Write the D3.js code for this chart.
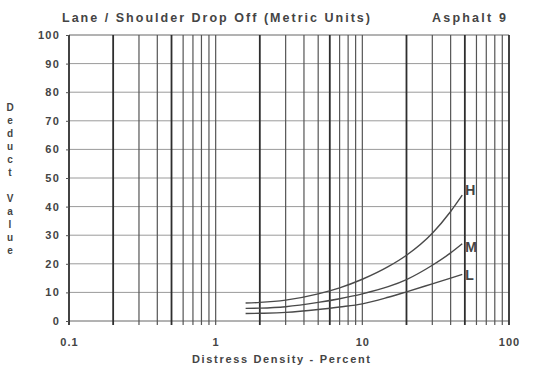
<!DOCTYPE html>
<html>
<head>
<meta charset="utf-8">
<script src="https://cdn.jsdelivr.net/npm/d3@7"></script>
<style>
  html, body { margin: 0; padding: 0; background: #fff; }
  svg { display: block; }
  text { font-family: "Liberation Sans", Arial, sans-serif; fill: #444; }
</style>
</head>
<body>
<svg id="chart" width="539" height="369"></svg>
<script>
// ---- data ----
const titleText = "Lane / Shoulder Drop Off (Metric Units)";
const subtitleText = "Asphalt 9";
const yLabelWord1 = "Deduct";
const yLabelWord2 = "Value";
const xLabelText = "Distress Density - Percent";

const yTicks = [0, 10, 20, 30, 40, 50, 60, 70, 80, 90, 100];
const xTickLabels = [0.1, 1, 10, 100];
const xGridValues = [0.1, 0.2, 0.3, 0.4, 0.5, 0.6, 0.7, 0.8, 0.9,
                     1, 2, 3, 4, 5, 6, 7, 8, 9,
                     10, 20, 30, 40, 50, 60, 70, 80, 90, 100];
const xGridHeavy = [0.1, 0.2, 0.5, 2, 6, 20, 50, 100];

const density = [1.6, 2, 3, 5, 7, 10, 15, 20, 30, 40, 48];
const seriesNames = ["H", "M", "L"];
const valuesH = [6.3, 6.5, 7.3, 9.5, 11.6, 14.6, 19, 23, 30.7, 38.3, 44];
const valuesM = [4.4, 4.5, 5.0, 6.5, 7.8, 9.5, 12, 14.5, 19.5, 23.8, 27];
const valuesL = [2.6, 2.7, 3.0, 4.0, 4.9, 6.0, 8.3, 10.2, 13, 15, 16.3];

// ---- layout ----
const svg = d3.select("#chart");
const x = d3.scaleLog().domain([0.1, 100]).range([69, 509]);
const y = d3.scaleLinear().domain([0, 100]).range([321, 35]);

// horizontal grid
svg.append("g").selectAll("line").data(yTicks).join("line")
  .attr("x1", x(0.1)).attr("x2", x(100))
  .attr("y1", d => y(d)).attr("y2", d => y(d))
  .attr("stroke", d => (d === 0 || d === 100) ? "#666" : "#9a9a9a")
  .attr("stroke-width", 1);

// vertical grid
svg.append("g").selectAll("line").data(xGridValues).join("line")
  .attr("x1", d => x(d)).attr("x2", d => x(d))
  .attr("y1", y(100)).attr("y2", y(0) + 4)
  .attr("stroke", d => xGridHeavy.includes(d) ? "#2e2e2e" : "#555")
  .attr("stroke-width", d => xGridHeavy.includes(d) ? 1.8 : 1.2);

// y axis labels
const yAxis = svg.append("g")
  .attr("transform", `translate(${x(0.1)},0)`)
  .call(d3.axisLeft(y).tickValues(yTicks).tickSize(3).tickPadding(6));
yAxis.select(".domain").remove();
yAxis.selectAll(".tick line").attr("stroke", "#555");
yAxis.selectAll("text")
  .style("font-family", "'Liberation Sans', Arial, sans-serif")
  .style("font-size", "11px").style("letter-spacing", "1.2px")
  .style("font-weight", "bold")
  .attr("fill", "#555");

// x axis labels
const xAxis = svg.append("g")
  .attr("transform", `translate(0,${y(0)})`)
  .call(d3.axisBottom(x).tickValues(xTickLabels).tickSize(0).tickPadding(17)
    .tickFormat(d => String(d)));
xAxis.select(".domain").remove();
xAxis.selectAll("text")
  .style("font-family", "'Liberation Sans', Arial, sans-serif")
  .style("font-size", "11px").style("letter-spacing", "1px")
  .style("font-weight", "bold")
  .attr("fill", "#555");

// curves
const line = d3.line().x(d => x(d[0])).y(d => y(d[1])).curve(d3.curveMonotoneX);
const allSeries = [valuesH, valuesM, valuesL];
allSeries.forEach((vals) => {
  svg.append("path")
    .datum(density.map((d, i) => [d, vals[i]]))
    .attr("d", line)
    .attr("fill", "none")
    .attr("stroke", "#4a4a4a")
    .attr("stroke-width", 1.4);
});

// series labels
allSeries.forEach((vals, i) => {
  svg.append("text")
    .attr("x", x(density[density.length - 1]) + 3)
    .attr("y", y(vals[vals.length - 1]) + [0, 8, 6][i])
    .attr("font-size", 14)
    .attr("font-weight", "bold")
    .attr("fill", "#444")
    .text(seriesNames[i]);
});

// titles
svg.append("text")
  .attr("x", 62).attr("y", 22)
  .attr("font-size", 12.5).attr("font-weight", "bold")
  .attr("textLength", 308).attr("lengthAdjust", "spacing")
  .text(titleText);
svg.append("text")
  .attr("x", 432).attr("y", 22)
  .attr("font-size", 12.5).attr("font-weight", "bold")
  .attr("textLength", 74).attr("lengthAdjust", "spacing")
  .text(subtitleText);

// x label
svg.append("text")
  .attr("x", 192).attr("y", 363)
  .attr("font-size", 11).attr("font-weight", "bold")
  .attr("textLength", 178).attr("lengthAdjust", "spacing")
  .text(xLabelText);

// y label (stacked letters)
const letters = [...yLabelWord1, " ", ...yLabelWord2];
svg.append("g").selectAll("text").data(letters).join("text")
  .attr("x", 10).attr("y", (d, i) => 111 + i * 13)
  .attr("text-anchor", "middle")
  .attr("font-size", 10)
  .attr("font-weight", "bold")
  .attr("fill", "#555")
  .text(d => d);
</script>
</body>
</html>
